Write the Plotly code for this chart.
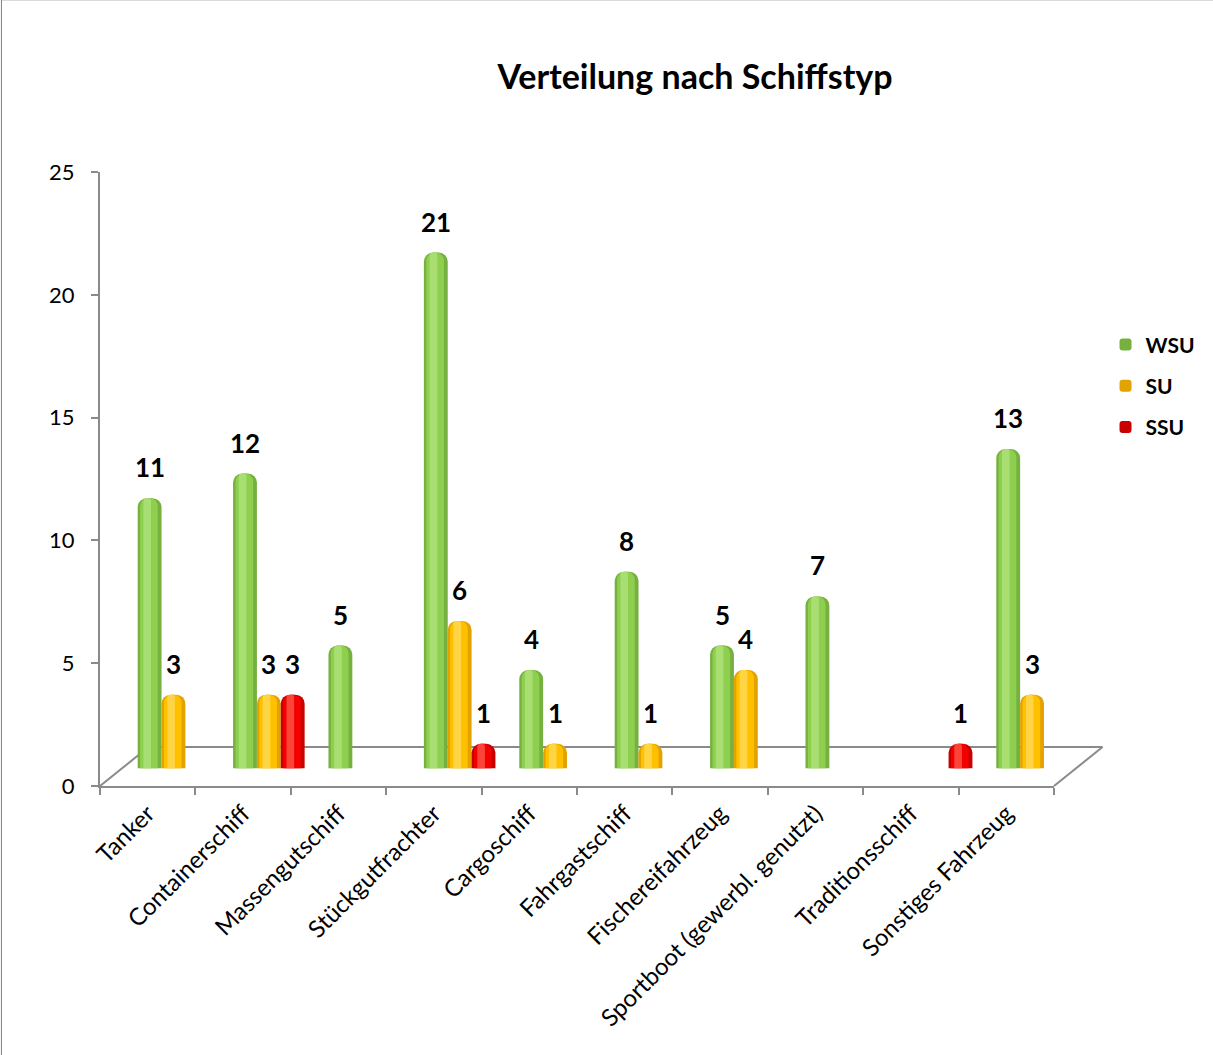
import plotly.graph_objects as go

# Ship types and counts per accident category
categories = [
    "Tanker", "Containerschiff", "Massengutschiff", "Stückgutfrachter",
    "Cargoschiff", "Fahrgastschiff", "Fischereifahrzeug",
    "Sportboot (gewerbl. genutzt)", "Traditionsschiff", "Sonstiges Fahrzeug",
]
wsu = [11, 12, 5, 21, 4, 8, 5, 7, None, 13]
su = [3, 3, None, 6, 1, 1, 4, None, None, 3]
ssu = [None, 3, None, 1, None, None, None, None, 1, None]

y_ticks = [0, 5, 10, 15, 20, 25]

series = [
    # name, values, (edge, body, highlight) colours, offset within group
    ("WSU", wsu, ("#76b03e", "#8fcf50", "#b2e37e"), -0.375),
    ("SU", su, ("#e2a200", "#ffc000", "#ffdb5c"), -0.125),
    ("SSU", ssu, ("#c80000", "#f20000", "#ff5a4a"), 0.125),
]

BAR_W = 0.25
FONT = "Lato"
AXIS_GREY = "#8a8a8a"

fig = go.Figure()

# invisible trace that anchors the front (visible) axes
fig.add_trace(go.Scatter(x=categories, y=[None] * len(categories),
                         mode="markers", showlegend=False, hoverinfo="skip"))

annotations = []
for name, vals, (edge, body, light), off in series:
    # cylinder body
    fig.add_trace(go.Bar(
        x=categories, y=vals, name=f"<b>{name}</b>", legendgroup=name,
        offset=off, width=BAR_W,
        marker=dict(color=edge, cornerradius=9, line=dict(width=0)),
        xaxis="x2", yaxis="y2",
    ))
    # shading bands to give a rounded look
    fig.add_trace(go.Bar(
        x=categories, y=vals, legendgroup=name, showlegend=False,
        offset=off + 0.025, width=0.185,
        marker=dict(color=body, cornerradius=8, line=dict(width=0)),
        xaxis="x2", yaxis="y2", hoverinfo="skip",
    ))
    fig.add_trace(go.Bar(
        x=categories, y=vals, legendgroup=name, showlegend=False,
        offset=off + 0.06, width=0.08,
        marker=dict(color=light, cornerradius=4, line=dict(width=0)),
        xaxis="x2", yaxis="y2", hoverinfo="skip", opacity=0.75,
    ))
    # value labels above the bars
    for i, v in enumerate(vals):
        if v is None:
            continue
        annotations.append(dict(
            x=i + off + BAR_W / 2, y=v, xref="x2", yref="y2",
            text=f"<b>{v}</b>", showarrow=False, yanchor="bottom",
            yshift=13, font=dict(family=FONT, size=26, color="#000000"),
        ))

# floor of the pseudo-3D plot area (paper coordinates)
dx, dy = 0.0509, 0.0635
floor_lines = [
    (0, 0, dx, dy),
    (dx, dy, 1 + dx, dy),
    (1, 0, 1 + dx, dy),
]
shapes = [
    dict(type="line", xref="paper", yref="paper", x0=a, y0=b, x1=c, y1=d,
         line=dict(color=AXIS_GREY, width=2), layer="below")
    for a, b, c, d in floor_lines
]
# chart border (left and top edges)
shapes += [
    dict(type="line", xref="paper", yref="paper", x0=-0.1033, y0=-0.5,
         x1=-0.1033, y1=1.2805, line=dict(color="#7f7f7f", width=1)),
    dict(type="line", xref="paper", yref="paper", x0=-0.1033, y0=1.2805,
         x1=1.2, y1=1.2805, line=dict(color="#7f7f7f", width=1)),
]

fig.update_layout(
    width=1213, height=1055,
    margin=dict(l=100, r=150, t=172, b=269),
    paper_bgcolor="white", plot_bgcolor="white",
    barmode="overlay",
    title=dict(text="<b>Verteilung nach Schiffstyp</b>",
               x=695 / 1213, xref="container", xanchor="center",
               y=1 - 77 / 1055, yref="container", yanchor="middle",
               font=dict(family=FONT, size=34, color="#000000")),
    font=dict(family=FONT, color="#000000"),
    xaxis=dict(type="category", categoryarray=categories,
               categoryorder="array", range=[-0.5, 9.5],
               tickangle=-45, tickson="boundaries", ticks="outside",
               ticklen=7, tickwidth=2, tickcolor=AXIS_GREY,
               showline=True, linecolor=AXIS_GREY, linewidth=2,
               showgrid=False, zeroline=False, ticklabelstandoff=2,
               tickfont=dict(family=FONT, size=24, color="#000000")),
    yaxis=dict(range=[0, 25], tickvals=y_ticks, ticks="outside",
               ticklen=7, tickwidth=2, tickcolor=AXIS_GREY,
               showline=True, linecolor=AXIS_GREY, linewidth=2,
               showgrid=False, zeroline=False, ticklabelstandoff=12,
               tickfont=dict(family=FONT, size=22, color="#000000")),
    xaxis2=dict(type="category", categoryarray=categories,
                categoryorder="array", overlaying="x",
                range=[-0.77, 9.23], visible=False),
    yaxis2=dict(overlaying="y", range=[-0.72, 24.28], visible=False),
    legend=dict(x=1.054, y=0.752, xanchor="left", yanchor="top",
                traceorder="grouped", tracegroupgap=11,
                font=dict(family=FONT, size=21, color="#000000"),
                bgcolor="rgba(0,0,0,0)"),
    annotations=annotations,
    shapes=shapes,
    showlegend=True,
)

fig.write_html("out.html")
